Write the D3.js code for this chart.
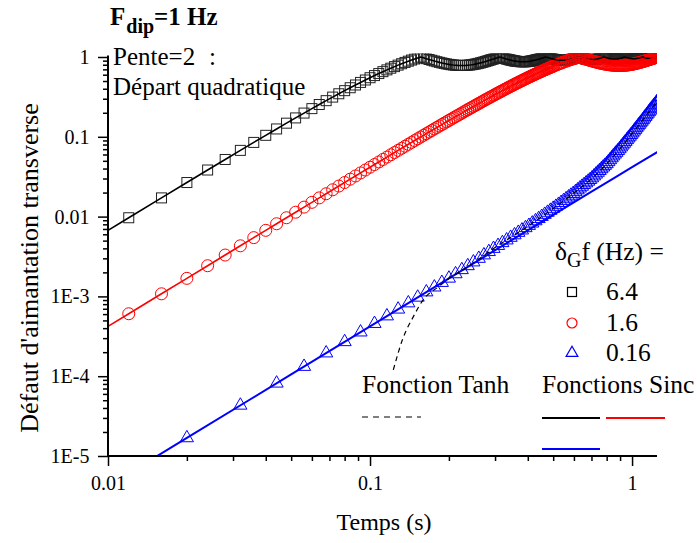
<!DOCTYPE html>
<html><head><meta charset="utf-8">
<script src="https://cdn.jsdelivr.net/npm/d3@7/dist/d3.min.js"></script>
<style>body{margin:0;background:#fff} svg{display:block}</style>
</head><body>
<svg id="chart" width="697" height="543" font-family="'Liberation Serif', 'Times New Roman', Times, 'DejaVu Serif', serif"></svg>
<script>
// ---- data ----
const tFast = [0.012,0.016,0.02,0.024,0.028,0.032,0.036,0.04,0.044,0.048,0.052,0.056,0.06,0.064,0.068,0.072,0.076,0.08,0.084,0.088,0.092,0.096,0.1,0.104,0.108,0.112,0.116,0.12,0.124,0.128,0.132,0.136,0.14,0.144,0.148,0.152,0.156,0.16,0.164,0.168,0.172,0.176,0.18,0.184,0.188,0.192,0.196,0.2,
0.208,0.216,0.224,0.232,0.24,0.248,0.256,0.264,0.272,0.28,0.288,0.296,0.304,0.312,0.32,0.328,0.336,0.344,0.352,0.36,0.368,0.376,0.384,0.392,0.4,0.408,0.416,0.424,0.432,0.44,0.448,0.456,0.464,0.472,0.48,0.488,0.496,0.504,0.512,0.52,0.528,0.536,0.544,0.552,0.56,0.568,0.576,0.584,0.592,0.6,0.608,0.616,0.624,0.632,0.64,0.648,0.656,0.664,0.672,0.68,0.688,0.696,0.704,0.712,0.72,0.728,0.736,0.744,0.752,0.76,0.768,0.776,0.784,0.792,0.8,0.808,0.816,0.824,0.832,0.84,0.848,0.856,0.864,0.872,0.88,0.888,0.896,0.904,0.912,0.92,0.928,0.936,0.944,0.952,0.96,0.968,0.976,0.984,0.992,1.0,1.008,1.016,1.024,1.032,1.04,1.048,1.056,1.064,1.072,1.08,1.088,1.096,1.104,1.112,1.12,1.128,1.136,1.144,1.152,1.16,1.168,1.176,1.184,1.192,1.2,1.208,1.216,1.224,1.232,1.24,1.248,1.256,1.264,1.272,1.28,1.288,1.296,1.304];

const yBlack = [0.009674,0.017159,0.02673,0.03836,0.05199,0.06758,0.08506,0.10437,0.12543,0.14817,0.17248,0.1983,0.22551,0.25401,0.28369,0.31446,0.34618,0.37874,0.41203,0.44592,0.48029,0.51502,0.54997,0.58504,0.6201,0.65501,0.68967,0.72396,0.75777,0.79097,0.82348,0.85519,0.88598,0.91579,0.94451,0.97207,0.9984,0.97658,0.95293,0.93071,0.90995,0.89071,0.87301,0.85689,0.84236,0.82942,0.8181,0.80839,
0.79372,0.78528,0.78278,0.78587,0.79409,0.80693,0.8238,0.84405,0.86702,0.89201,0.91833,0.94527,0.97218,0.9984,0.97665,0.95351,0.93263,0.91443,0.89921,0.88722,0.87859,0.8734,0.87163,0.87317,0.87786,0.88546,0.89567,0.90813,0.92246,0.93824,0.95501,0.97234,0.98978,0.99312,0.97676,0.96153,0.94777,0.93577,0.92578,0.91798,0.9125,0.90942,0.90873,0.91038,0.91426,0.92022,0.92804,0.93748,0.94826,0.96007,0.97258,0.98547,0.9984,0.98896,0.97692,0.96576,0.95574,0.9471,0.94001,0.93462,0.93103,0.92927,0.92936,0.93126,0.93486,0.94005,0.94666,0.95448,0.96331,0.97288,0.98295,0.99325,0.99649,0.98653,0.97711,0.96847,0.9608,0.95427,0.94905,0.94523,0.94288,0.94203,0.94268,0.94479,0.94827,0.95301,0.95887,0.96568,0.97325,0.98137,0.98983,0.9984,0.99313,0.98498,0.97735,0.97043,0.96438,0.95933,0.95541,0.9527,0.95124,0.95105,0.95212,0.95439,0.95781,0.96225,0.96759,0.97368,0.98035,0.98743,0.99473,0.99795,0.99078,0.98395,0.97764,0.97198,0.96712,0.96318,0.96023,0.95834,0.95755,0.95785,0.95924,0.96164,0.965,0.96922,0.97416,0.97971,0.98571,0.99199,0.9984,0.99523,0.98907,0.98326,0.97796,0.97328,0.96935,0.96626];

const yRed = [0.00060628,0.0010777,0.0016836,0.0024238,0.0032982,0.0043065,0.0054486,0.006724,0.0081326,0.009674,0.011348,0.013153,0.015091,0.017159,0.019338,0.021687,0.024146,0.026734,0.029449,0.032293,0.035263,0.03836,0.041582,0.044928,0.048399,0.051992,0.055708,0.059545,0.063503,0.06758,0.071775,0.076088,0.080517,0.085061,0.08972,0.094491,0.099375,0.10437,0.10947,0.11469,0.12001,0.12543,0.13096,0.13659,0.14233,0.14816,0.1541,0.16013,
0.17248,0.18521,0.1983,0.21174,0.22551,0.2396,0.25401,0.2687,0.28369,0.29895,0.31446,0.3302,0.34618,0.36236,0.37874,0.39531,0.41203,0.42891,0.44592,0.46306,0.48029,0.49762,0.51502,0.53248,0.54997,0.5675,0.58504,0.60258,0.6201,0.63757,0.65501,0.67238,0.68967,0.70687,0.72396,0.74093,0.75777,0.77445,0.79097,0.80732,0.82348,0.83944,0.85519,0.8707,0.88598,0.90102,0.91579,0.93029,0.94451,0.95844,0.97207,0.9854,0.9984,0.98893,0.97658,0.96459,0.95293,0.94164,0.93071,0.92014,0.90995,0.90014,0.89071,0.88166,0.87301,0.86475,0.85689,0.84942,0.84236,0.83569,0.82942,0.82356,0.8181,0.81305,0.80839,0.80413,0.80027,0.7968,0.79372,0.79104,0.78874,0.78682,0.78528,0.78411,0.7833,0.78287,0.78278,0.78304,0.78365,0.78459,0.78587,0.78746,0.78937,0.79158,0.79409,0.79689,0.79997,0.80332,0.80693,0.81079,0.8149,0.81923,0.8238,0.82857,0.83354,0.83874,0.84405,0.84957,0.85524,0.86106,0.86702,0.87311,0.87931,0.88561,0.89201,0.8985,0.90505,0.91166,0.91833,0.92503,0.93177,0.93852,0.94527,0.95203,0.95877,0.96549,0.97218,0.97882,0.98541,0.99194,0.9984,0.99522,0.98893,0.98274,0.97665,0.97068,0.96482,0.9591];

// extra sample times (between 0.2 and 0.5) where the markers are closer together
const tMid = [0.204,0.212,0.22,0.228,0.236,0.244,0.252,0.26,0.268,0.276,0.284,0.292,0.3,0.308,0.316,0.324,0.332,0.34,0.348,0.356,0.364,0.372,0.38,0.388,0.396,0.404,0.412,0.42,0.428,0.436,0.444,0.452,0.46,0.468,0.476,0.484,0.492,0.5];
const yBlackMid = [0.80026,0.78874,0.7833,0.78365,0.78937,0.79997,0.8149,0.83354,0.85524,0.87931,0.90505,0.93177,0.95877,0.98541,0.98893,0.96482,0.94276,0.92318,0.90643,0.8928,0.88248,0.87557,0.87209,0.87199,0.87514,0.88132,0.89026,0.90165,0.91509,0.9302,0.94653,0.96364,0.98108,0.9984,0.98482,0.96898,0.95445,0.94153];
const yRedMid = [0.16626,0.1788,0.19171,0.20497,0.21858,0.23251,0.24676,0.26132,0.27616,0.29128,0.30667,0.3223,0.33817,0.35424,0.37053,0.387,0.40365,0.42046,0.4374,0.45448,0.47166,0.48895,0.50631,0.52374,0.54122,0.55874,0.57627,0.59381,0.61134,0.62884,0.6463,0.6637,0.68103,0.69828,0.71543,0.73246,0.74936,0.76613];

const tBlue = [0.02,0.032,0.044,0.056,0.068,0.08,0.092,0.104,0.116,0.128,0.14,0.152,0.164,0.176,0.188,0.2,0.212,0.224,0.236,0.248,0.26,0.272,0.284,0.296,0.308,0.32,0.332,0.344,0.356,0.368,0.38,0.392,0.404,0.416,0.428,0.44,0.452,0.464,0.476,0.488,0.5,0.512,0.524,0.536,0.548,0.56,0.572,0.584,0.596,0.608,0.62,0.632,0.644,0.656,0.668,0.68,0.692,0.704,0.716,0.728,0.74,0.752,0.764,0.776,0.788,0.8,0.812,0.824,0.836,0.848,0.86,0.872,0.884,0.896,0.908,0.92,0.932,0.944,0.956,0.968,0.98,0.992,1.004,1.016,1.028,1.04,1.052,1.064,1.076,1.088,1.1,1.112,1.124,1.136,1.148,1.16,1.172,1.184,1.196,1.208,1.22,1.232,1.244,1.256,1.268,1.28,1.292];
const yBlue = [1.684e-5,4.312e-5,8.152e-5,1.3206e-4,1.9472e-4,2.695e-4,3.564e-4,4.555e-4,5.666e-4,6.899e-4,8.254e-4,9.729e-4,1.1326e-3,1.3044e-3,1.4884e-3,1.6844e-3,1.911e-3,2.1535e-3,2.4129e-3,2.6894e-3,2.9832e-3,3.295e-3,3.6247e-3,3.973e-3,4.3272e-3,4.6916e-3,5.0723e-3,5.4696e-3,5.8833e-3,6.314e-3,6.7617e-3,7.2265e-3,7.7197e-3,8.2551e-3,8.8122e-3,9.3917e-3,9.9935e-3,0.010618,0.011266,0.011938,0.012633,0.013379,0.014152,0.014953,0.015782,0.016639,0.017525,0.018441,0.019386,0.020423,0.021529,0.022673,0.023857,0.02508,0.026344,0.02765,0.028997,0.030471,0.032166,0.033923,0.035742,0.037625,0.039573,0.041587,0.043667,0.045816,0.048533,0.051351,0.05427,0.057292,0.06042,0.063655,0.066998,0.070452,0.074296,0.078411,0.082665,0.087059,0.091595,0.096277,0.101105,0.106083,0.111382,0.117191,0.12318,0.129351,0.135709,0.142256,0.148993,0.155924,0.16305,0.171001,0.17918,0.187591,0.196236,0.205119,0.214243,0.223611,0.233226,0.243091,0.253209,0.263327,0.273694,0.284313,0.295188,0.30632,0.317713];

// Sinc curves: starting points at left axis and blue sinc curve
const sincStartT = 0.01;
const sincStartBlack = 0.006724;
const sincStartRed = 0.00042098;
const tSincBlue = [0.01,0.02,0.05,0.1,0.2,0.5,0.7,0.85,1.0,1.15,1.3];
const ySincBlue = [4.211e-6,1.6844e-5,1.0527e-4,4.2105e-4,1.68436e-3,0.010495,0.020507,0.030148,0.041581,0.054766,0.069661];

// Tanh function (dashed)
const tTanh = [0.1227,0.1336,0.146,0.1593,0.1818,0.2014,0.2356,0.3,0.4,0.5,0.6,0.7,0.8,0.9,1.0,1.1,1.2,1.24];
const yTanh = [1.2e-4,3.0e-4,5.5e-4,9.0e-4,1.31e-3,1.7e-3,2.34e-3,4.1e-3,7.55e-3,0.01263,0.0197,0.0299,0.0458,0.0710,0.1095,0.163,0.236,0.265];

const xTickValues = [0.01,0.1,1];
const xTickLabels = ["0.01","0.1","1"];
const yTickValues = [1e-5,1e-4,1e-3,0.01,0.1,1];
const yTickLabels = ["1E-5","1E-4","1E-3","0.01","0.1","1"];
const legendValues = ["6.4","1.6","0.16"];

// ---- drawing ----
const FONT = "'Liberation Serif', 'Times New Roman', Times, 'DejaVu Serif', serif";
const svg = d3.select("#chart");
const X0 = 108, X1 = 657, Y0 = 456, Y1 = 57;
const x = d3.scaleLog().domain([0.01, 1.245]).range([X0, X1]);
const y = d3.scaleLog().domain([1e-5, 1]).range([Y0, Y1]);

svg.append("defs").append("clipPath").attr("id","clip")
  .append("rect").attr("x", X0).attr("y", 53.5).attr("width", X1 - X0).attr("height", Y0 - 53.5);

const plot = svg.append("g").attr("clip-path","url(#clip)");

const zip = (ts, ys) => ts.map((t,i)=>[t, ys[i]]);
const line = d3.line().x(d=>x(d[0])).y(d=>y(d[1]));
const blackPts = d3.sort([...zip(tFast, yBlack), ...zip(tMid, yBlackMid)], d=>d[0]);
const redPts = d3.sort([...zip(tFast, yRed), ...zip(tMid, yRedMid)], d=>d[0]);

// markers
const sqS = 10;
plot.append("g").selectAll("rect").data(blackPts).join("rect")
  .attr("x", d=>x(d[0])-sqS/2).attr("y", d=>y(d[1])-sqS/2).attr("width", sqS).attr("height", sqS)
  .attr("fill","none").attr("stroke","#222").attr("stroke-width",1);
plot.append("g").selectAll("circle").data(redPts).join("circle")
  .attr("cx", d=>x(d[0])).attr("cy", d=>y(d[1])).attr("r", 6)
  .attr("fill","none").attr("stroke","#ff0000").attr("stroke-width",1);
const tri = d3.symbol().type(d3.symbolTriangle).size(75);
plot.append("g").selectAll("path").data(zip(tBlue, yBlue)).join("path")
  .attr("transform", d=>`translate(${x(d[0])},${y(d[1])})`).attr("d", tri())
  .attr("fill","none").attr("stroke","#0000ff").attr("stroke-width",1);

// sinc lines
plot.append("path").datum([[sincStartT, sincStartBlack], ...blackPts]).attr("d", line)
  .attr("fill","none").attr("stroke","#000").attr("stroke-width",1.6);
plot.append("path").datum([[sincStartT, sincStartRed], ...redPts]).attr("d", line)
  .attr("fill","none").attr("stroke","#ff0000").attr("stroke-width",1.6);
plot.append("path").datum(zip(tSincBlue, ySincBlue))
  .attr("d", d3.line().x(d=>x(d[0])).y(d=>y(d[1])).curve(d3.curveMonotoneX))
  .attr("fill","none").attr("stroke","#0000ff").attr("stroke-width",2);
plot.append("path").datum(zip(tTanh, yTanh))
  .attr("d", d3.line().x(d=>x(d[0])).y(d=>y(d[1])).curve(d3.curveMonotoneX))
  .attr("fill","none").attr("stroke","#000").attr("stroke-width",1.2).attr("stroke-dasharray","5,4");

// axes
const minorY = y.ticks().filter(v => !yTickValues.some(m => Math.abs(m - v)/m < 1e-6));
const minorX = x.ticks().filter(v => !xTickValues.some(m => Math.abs(m - v)/m < 1e-6));

const yAxis = svg.append("g").attr("transform",`translate(${X0},0)`)
  .call(d3.axisLeft(y).tickValues(yTickValues).tickSize(10).tickPadding(8.5)
    .tickFormat((d,i)=>yTickLabels[i]));
svg.append("g").attr("transform",`translate(${X0},0)`)
  .call(d3.axisLeft(y).tickValues(minorY).tickSize(5).tickFormat(""))
  .call(g=>g.select(".domain").remove());
const xAxis = svg.append("g").attr("transform",`translate(0,${Y0})`)
  .call(d3.axisBottom(x).tickValues(xTickValues).tickSize(10).tickPadding(10)
    .tickFormat((d,i)=>xTickLabels[i]));
svg.append("g").attr("transform",`translate(0,${Y0})`)
  .call(d3.axisBottom(x).tickValues(minorX).tickSize(5).tickFormat(""))
  .call(g=>g.select(".domain").remove());

svg.selectAll("g").attr("font-family", null);
svg.selectAll(".domain").attr("stroke","#000").attr("stroke-width",2);
svg.selectAll(".tick line").attr("stroke","#000").attr("stroke-width",1.5);
svg.selectAll(".tick text").style("font-family", FONT).attr("font-size",20).attr("fill","#000");
yAxis.select(".domain").attr("d", `M0,${Y0}V${Y1 - 1.5}`);
xAxis.select(".domain").attr("d", `M${X0},0H${X1}`);

// text helper
const txt = (xx, yy, size) => svg.append("text").attr("x", xx).attr("y", yy).attr("font-size", size).style("font-family", FONT).attr("fill","#000");

// axis titles
txt(384, 530, 24).attr("text-anchor","middle").text("Temps (s)");
svg.append("text").attr("transform","translate(38,268) rotate(-90)").attr("text-anchor","middle").attr("font-size",26).style("font-family", FONT).text("Défaut d'aimantation transverse");

// annotations
const title = txt(110, 25, 25).attr("font-weight","bold");
title.append("tspan").text("F");
title.append("tspan").attr("font-size",20).attr("dy",8).attr("dx",1).text("dip");
title.append("tspan").attr("dy",-8).text("=1 Hz");
txt(113, 65, 25).text("Pente=2");
txt(209, 65, 25).text(":");
txt(113, 95, 25).text("Départ quadratique");

// legend
const lg = txt(555, 260, 25.5);
lg.append("tspan").text("δ");
lg.append("tspan").attr("font-size",20).attr("dy",7).text("G");
lg.append("tspan").attr("dy",-7).text("f (Hz) =");
const legY = [292, 323, 353];
svg.append("rect").attr("x",572-4.5).attr("y",legY[0]-4.5).attr("width",9).attr("height",9).attr("fill","none").attr("stroke","#000").attr("stroke-width",1.2);
svg.append("circle").attr("cx",572).attr("cy",legY[1]).attr("r",5).attr("fill","none").attr("stroke","#ff0000").attr("stroke-width",1.2);
svg.append("path").attr("transform",`translate(572,${legY[2]})`).attr("d", d3.symbol().type(d3.symbolTriangle).size(60)()).attr("fill","none").attr("stroke","#0000ff").attr("stroke-width",1.2);
legendValues.forEach((v,i)=>txt(606, legY[i]+8, 25.5).text(v));

txt(362, 393, 25.5).text("Fonction Tanh");
svg.append("line").attr("x1",362).attr("x2",421).attr("y1",417).attr("y2",417).attr("stroke","#000").attr("stroke-width",1.2).attr("stroke-dasharray","6,5");
txt(542, 393, 25.5).text("Fonctions Sinc");
svg.append("line").attr("x1",542).attr("x2",600).attr("y1",418).attr("y2",418).attr("stroke","#000").attr("stroke-width",2);
svg.append("line").attr("x1",606).attr("x2",665).attr("y1",418).attr("y2",418).attr("stroke","#ff0000").attr("stroke-width",2);
svg.append("line").attr("x1",542).attr("x2",600).attr("y1",449).attr("y2",449).attr("stroke","#0000ff").attr("stroke-width",2);
</script>
</body></html>
